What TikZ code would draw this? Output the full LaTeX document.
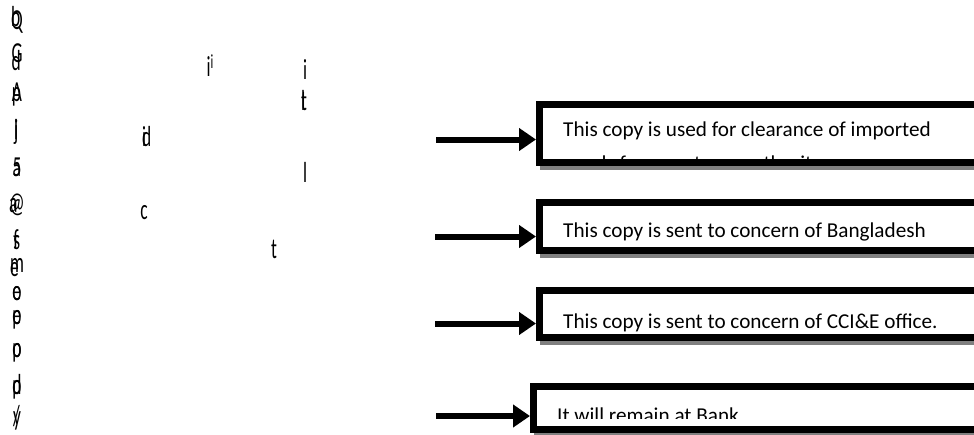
\documentclass[tikz,border=0pt]{standalone}
\usepackage{fontspec}
\setmainfont{Carlito}
\usetikzlibrary{arrows.meta,backgrounds}
\begin{document}
\begin{tikzpicture}[x=1pt,y=-1pt,
  frame/.style={draw=black,line width=7pt,fill=white,inner sep=0pt,anchor=north west},
  arr/.style={line width=6pt,-{Triangle[length=17pt,width=22pt]}},
  lbl/.style={font=\fontsize{21.2}{25}\selectfont,anchor=base west,inner sep=0pt},
  glyph/.style={font=\fontsize{29}{29}\selectfont,inner sep=0pt,xscale=0.6},
  shade/.style={fill=black!50}
]
\useasboundingbox (0,0) rectangle (974,434);
\clip (0,0) rectangle (974,434);

% boxes
\node[frame,minimum width=450pt,minimum height=58pt] (b1) at (536,101) {};
\node[frame,minimum width=450pt,minimum height=48pt] (b2) at (536,199) {};
\node[frame,minimum width=450pt,minimum height=47pt] (b3) at (536,287) {};
\node[frame,minimum width=456pt,minimum height=43pt] (b4) at (530,383) {};

\begin{pgfonlayer}{background}
  \foreach \b in {b1,b2,b3,b4}{
    \fill[shade] ([shift={(4,3)}]\b.north west) rectangle ([shift={(4,4)}]\b.south east);
  }
\end{pgfonlayer}

% texts (clipped to the inner area of each frame)
\begin{scope}
  \clip (543,108) rectangle (980,159);
  \node[lbl] (t1) at (563,136) {This copy is used for clearance of imported};
  \node[lbl] (t1b) at (563,170) {goods from customs authority};
\end{scope}
\node[lbl] (t2) at (563,237) {This copy is sent to concern of Bangladesh};
\begin{scope}
  \clip (543,294) rectangle (980,332);
  \node[lbl] (t3) at (563,328) {This copy is sent to concern of CCI\&E office.};
\end{scope}
\begin{scope}
  \clip (537,390) rectangle (980,418);
  \node[lbl] (t4) at (557,422) {It will remain at Bank};
\end{scope}

% arrows
\coordinate (s1) at (436,139.5);
\coordinate (s2) at (435,236.5);
\coordinate (s3) at (435,323.5);
\coordinate (s4) at (436,416);
\draw[arr] (s1) -- (s1 -| b1.west);
\draw[arr] (s2) -- (s2 -| b2.west);
\draw[arr] (s3) -- (s3 -| b3.west);
\draw[arr] (s4) -- (s4 -| b4.west);

% garbled glyph fragments, left column
\node[glyph] (g1)  at (17,20)  {\rlap{\raisebox{3pt}{b}}Q};
\node[glyph] (g2)  at (17,57)  {\rlap{\raisebox{-8pt}{d}}G};
\node[glyph] (g3)  at (17,95)  {\rlap{p}A};
\node[glyph] (g4)  at (16,132) {\rlap{j}l};
\node[glyph] (g5)  at (17,167) {\rlap{a}5};
\node[glyph] (g6)  at (17,205) {\rlap{a}@};
\node[glyph] (g7)  at (16,240) {\rlap{s}f};
\node[glyph] (g8)  at (17,268) {\rlap{\raisebox{-4pt}{e}}m};
\node[glyph] (g9)  at (17,294) {\rlap{e}o};
\node[glyph] (g10) at (17,320) {\rlap{e}p};
\node[glyph] (g11) at (17,353) {\rlap{o}p};
\node[glyph] (g12) at (17,387) {\rlap{d}p};
\node[glyph] (g13) at (17,418) {\rlap{/}y};

% garbled glyph fragments, middle
\node[glyph] (m1) at (210,66)  {i\raisebox{8pt}{\fontsize{20}{20}\selectfont i}};
\node[glyph] (m2) at (305,70)  {i};
\node[glyph] (m3) at (303,101) {\rlap{t}l};
\node[glyph] (m4) at (144,137) {\rlap{d}i};
\node[glyph] (m5) at (305,172) {l};
\node[glyph] (m6) at (144,213) {c};
\node[glyph] (m7) at (274,249) {t};
\end{tikzpicture}
\end{document}
